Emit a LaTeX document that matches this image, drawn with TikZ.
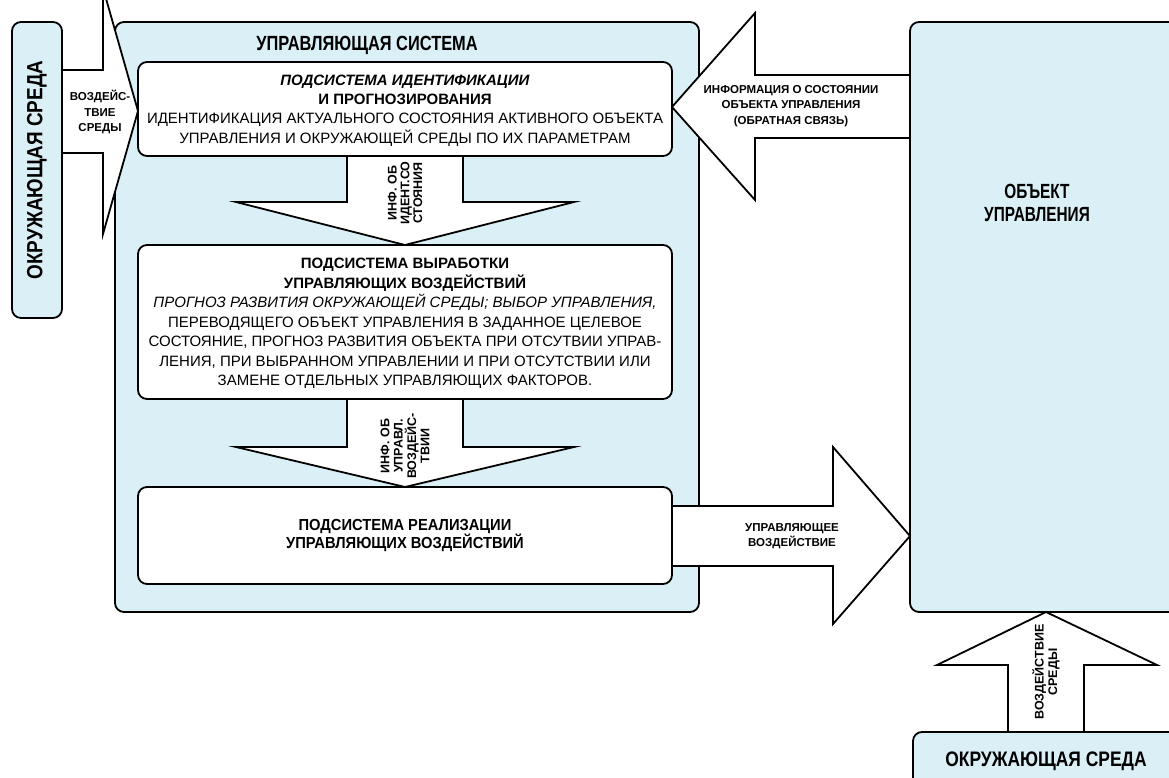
\documentclass[tikz,border=0pt]{standalone}
\usepackage{fontspec}
\setmainfont{Liberation Sans}
\usepackage{graphicx}
\usetikzlibrary{calc}
\definecolor{paleblue}{RGB}{218,239,246}
\newcommand\hsq[2]{\scalebox{#1}[1]{#2}}
\newcommand\fs[2]{\fontsize{#1}{#2}\selectfont}
\begin{document}
\begin{tikzpicture}[x=1pt,y=-1pt,
  box/.style={draw, line width=1.8pt, rounded corners=9pt, anchor=north west, outer sep=0pt, inner sep=0pt},
  bluebox/.style={box, fill=paleblue},
  whitebox/.style={box, fill=white},
  barrow/.style={draw, fill=white, line width=1.8pt, line join=miter},
  txt/.style={inner sep=0pt, align=center},
  lbl/.style={txt, font=\bfseries\fs{11.5}{15.5}},
]
\useasboundingbox (0,0) rectangle (1169,778);
\clip (0,0) rectangle (1169,778);
\fill[white] (0,0) rectangle (1169,778);

% big boxes
\node[bluebox, minimum width=584pt, minimum height=590pt] (sys) at (115,22) {};
\node[bluebox, minimum width=50pt, minimum height=296pt] (envL) at (12,22) {};
\node[bluebox, minimum width=290pt, minimum height=590pt] (obj) at (910,22) {};
\node[bluebox, minimum width=290pt, minimum height=80pt] (envB) at (913,732) {};

% subsystem boxes
\node[whitebox, minimum width=534pt, minimum height=94pt] (idn) at (138,62) {};
\node[whitebox, minimum width=534pt, minimum height=154pt] (gen) at (138,245) {};
\node[whitebox, minimum width=534pt, minimum height=97pt] (real) at (138,487) {};

% block arrows
\draw[barrow] (envL.east |- 0,70) -- (103,70) -- (103,-12) -- (idn.west |- 0,111)
  -- (103,234) -- (103,153) -- (envL.east |- 0,153) -- cycle;
\draw[barrow] (obj.west |- 0,75) -- (755,75) -- (755,13) -- (idn.east |- 0,107)
  -- (755,200) -- (755,138) -- (obj.west |- 0,138) -- cycle;
\draw[barrow] (idn.south -| 347,0) -- (347,202) -- (236,202) -- (gen.north -| 405,0)
  -- (574,202) -- (463,202) -- (idn.south -| 463,0) -- cycle;
\draw[barrow] (gen.south -| 347,0) -- (347,447) -- (236,447) -- (real.north -| 405,0)
  -- (574,447) -- (463,447) -- (gen.south -| 463,0) -- cycle;
\draw[barrow] (real.east |- 0,506) -- (833,506) -- (833,447) -- (obj.west |- 0,536)
  -- (833,624) -- (833,566) -- (real.east |- 0,566) -- cycle;
\draw[barrow] (envB.north -| 1008,0) -- (1008,665) -- (937,665) -- (obj.south -| 1046,0)
  -- (1157,665) -- (1084,665) -- (envB.north -| 1084,0) -- cycle;

% texts
\node[txt, font=\bfseries\fs{20.5}{24}] (title) at (367,45) {\hsq{0.8}{УПРАВЛЯЮЩАЯ СИСТЕМА}};
\node[txt, rotate=90, font=\bfseries\fs{22}{26}] (envLlbl) at (envL.center) {\hsq{0.86}{ОКРУЖАЮЩАЯ СРЕДА}};
\node[txt, font=\bfseries\fs{21}{24}] (envBlbl) at (1046,761) {\hsq{0.83}{ОКРУЖАЮЩАЯ СРЕДА}};
\node[txt, font=\bfseries\fs{20.5}{23}] (objlbl) at (1037,203) {\hsq{0.75}{ОБЪЕКТ}\\\hsq{0.75}{УПРАВЛЕНИЯ}};

\node[txt, font=\fs{15}{19.4}] (idntxt) at ([yshift=-1.5pt]idn.center)
  {\textbf{\textit{ПОДСИСТЕМА ИДЕНТИФИКАЦИИ}}\\
   \textbf{И ПРОГНОЗИРОВАНИЯ}\\
   ИДЕНТИФИКАЦИЯ АКТУАЛЬНОГО СОСТОЯНИЯ АКТИВНОГО ОБЪЕКТА\\
   УПРАВЛЕНИЯ И ОКРУЖАЮЩЕЙ СРЕДЫ ПО ИХ ПАРАМЕТРАМ};
\node[txt, font=\fs{15}{19.5}] (gentxt) at ([yshift=-1.5pt]gen.center)
  {\textbf{ПОДСИСТЕМА ВЫРАБОТКИ}\\
   \textbf{УПРАВЛЯЮЩИХ ВОЗДЕЙСТВИЙ}\\
   \textit{ПРОГНОЗ РАЗВИТИЯ ОКРУЖАЮЩЕЙ СРЕДЫ; ВЫБОР УПРАВЛЕНИЯ,}\\
   ПЕРЕВОДЯЩЕГО ОБЪЕКТ УПРАВЛЕНИЯ В ЗАДАННОЕ ЦЕЛЕВОЕ\\
   СОСТОЯНИЕ, ПРОГНОЗ РАЗВИТИЯ ОБЪЕКТА ПРИ ОТСУТВИИ УПРАВ-\\
   ЛЕНИЯ, ПРИ ВЫБРАННОМ УПРАВЛЕНИИ И ПРИ ОТСУТСТВИИ ИЛИ\\
   ЗАМЕНЕ ОТДЕЛЬНЫХ УПРАВЛЯЮЩИХ ФАКТОРОВ.};
\node[txt, font=\bfseries\fs{16}{18.5}] (realtxt) at (real.center)
  {\hsq{0.92}{ПОДСИСТЕМА РЕАЛИЗАЦИИ}\\\hsq{0.92}{УПРАВЛЯЮЩИХ ВОЗДЕЙСТВИЙ}};

\node[lbl] (lblL) at (100,112) {ВОЗДЕЙС-\\ТВИЕ\\СРЕДЫ};
\node[lbl] (lblFb) at (791,106) {ИНФОРМАЦИЯ О СОСТОЯНИИ\\ОБЪЕКТА УПРАВЛЕНИЯ\\(ОБРАТНАЯ СВЯЗЬ)};
\node[lbl, rotate=90, font=\bfseries\fs{12.5}{12.8}] (lblD1) at (405,193) {ИНФ. ОБ\\ИДЕНТ.СО\\СТОЯНИЯ};
\node[lbl, rotate=90, font=\bfseries\fs{12.5}{13.3}] (lblD2) at (405,446) {ИНФ. ОБ\\УПРАВЛ.\\ВОЗДЕЙС-\\ТВИИ};
\node[lbl] (lblR) at (792,536) {УПРАВЛЯЮЩЕЕ\\ВОЗДЕЙСТВИЕ};
\node[lbl, rotate=90, font=\bfseries\fs{12.5}{13.5}] (lblU) at (1046,672) {ВОЗДЕЙСТВИЕ\\СРЕДЫ};
\end{tikzpicture}
\end{document}
